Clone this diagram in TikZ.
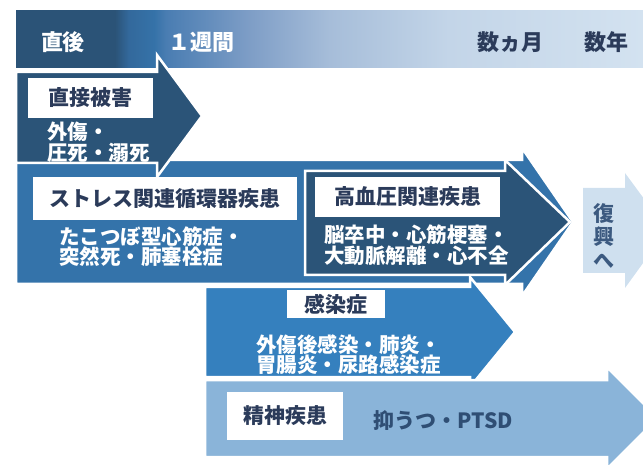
\documentclass[tikz,border=0pt]{standalone}
\usepackage{fontspec}
\setmainfont{Noto Sans CJK JP}
\definecolor{hA}{HTML}{2B5377}
\definecolor{hB}{HTML}{33699C}
\definecolor{hB2}{HTML}{3572A8}
\definecolor{hC}{HTML}{4A7DB2}
\definecolor{hD}{HTML}{7D9DC6}
\definecolor{hE}{HTML}{A6BDD9}
\definecolor{hF}{HTML}{C3D5E8}
\definecolor{hG}{HTML}{D3E2F0}
\definecolor{darkc}{HTML}{2B5478}
\definecolor{stressc}{HTML}{3473AA}
\definecolor{infc}{HTML}{3580BE}
\definecolor{ptsdc}{HTML}{8AB4D9}
\definecolor{recc}{HTML}{CFE0EF}
\definecolor{navy}{HTML}{2B3B5A}
\definecolor{ptsdtext}{HTML}{2F4E74}
\definecolor{rectext}{HTML}{3C5A80}
\pgfdeclarehorizontalshading{hdr}{100bp}{color(0bp)=(hA); color(32.9bp)=(hA); color(34bp)=(hB); color(36bp)=(hB2); color(37bp)=(hC); color(43.5bp)=(hD); color(50bp)=(hE); color(59.5bp)=(hF); color(75bp)=(hG); color(100bp)=(hG)}
\begin{document}
\begin{tikzpicture}[x=1pt,y=-1pt,
  arr/.style={draw=white,line width=2.5pt,line join=miter},
  lbl/.style={fill=white,text=navy,font=\fontsize{21}{23}\selectfont\bfseries,inner sep=0pt},
  sub/.style={text=white,font=\fontsize{20.5}{20.5}\selectfont\bfseries,align=left,inner sep=0pt,anchor=west},
  hdrw/.style={text=white,font=\fontsize{22}{24}\selectfont\bfseries,inner sep=0pt},
  hdrd/.style={text=navy,font=\fontsize{22}{24}\selectfont\bfseries,inner sep=0pt}]
\useasboundingbox (0,0) rectangle (643,465);
\clip (0,0) rectangle (643,465);
% header band
\shade[shading=hdr] (16,11) rectangle (643,68);
% arrows
\fill[stressc,arr] (16,160) -- (522,160) -- (522,148) -- (573,222) -- (522,296) -- (522,284) -- (16,284) -- cycle;
\fill[darkc,arr] (305,171) -- (505,171) -- (505,160) -- (570,222) -- (505,285) -- (505,275) -- (305,275) -- cycle;
\fill[infc,arr] (205,287) -- (470,287) -- (470,277) -- (515,332) -- (470,387) -- (470,377) -- (205,377) -- cycle;
\fill[ptsdc,arr] (205,380) -- (607,380) -- (607,367) -- (658,418) -- (607,469) -- (607,457) -- (205,457) -- cycle;
\fill[darkc,arr] (16,72) -- (157,72) -- (157,55) -- (202,116) -- (157,177) -- (157,163) -- (16,163) -- cycle;
\fill[recc] (583,188) -- (625,188) -- (625,173) -- (667,230) -- (625,288) -- (625,273) -- (583,273) -- cycle;
% header texts
\node[hdrw] (h1) at (63,42) {直後};
\node[hdrw] (h2) at (201,42) {１週間};
\node[hdrd] (h3) at (510,42) {数ヵ月};
\node[hdrd] (h4) at (606.5,42) {数年};
% direct damage
\node[lbl,minimum width=125pt,minimum height=40pt] (dl) at (90.5,98) {直接被害};
\node[sub] (ds) at (47,142) {外傷・\\圧死・溺死};
% stress
\node[lbl,minimum width=264pt,minimum height=43pt] (sl) at (165,198.5) {ストレス関連循環器疾患};
\node[sub] (ss) at (59,246.5) {たこつぼ型心筋症・\\突然死・肺塞栓症};
% hypertension
\node[lbl,minimum width=185pt,minimum height=40pt] (hl) at (407.5,197) {高血圧関連疾患};
\node[sub] (hs) at (324,245) {脳卒中・心筋梗塞・\\大動脈解離・心不全};
% infection
\node[lbl,minimum width=98pt,minimum height=28pt] (il) at (336,304) {感染症};
\node[sub] (is) at (256,354.5) {外傷後感染・肺炎・\\胃腸炎・尿路感染症};
% mental
\node[lbl,minimum width=116pt,minimum height=48pt] (pl) at (285,416) {精神疾患};
\node[text=ptsdtext,font=\fontsize{21}{23}\selectfont\bfseries,inner sep=0pt,anchor=west] (pt) at (373,421) {抑うつ・PTSD};
% recovery
\node[text=rectext,font=\fontsize{21}{23.5}\selectfont\bfseries,align=center,inner sep=0pt] (rt) at (604,236) {復\\興\\へ};
\end{tikzpicture}
\end{document}
